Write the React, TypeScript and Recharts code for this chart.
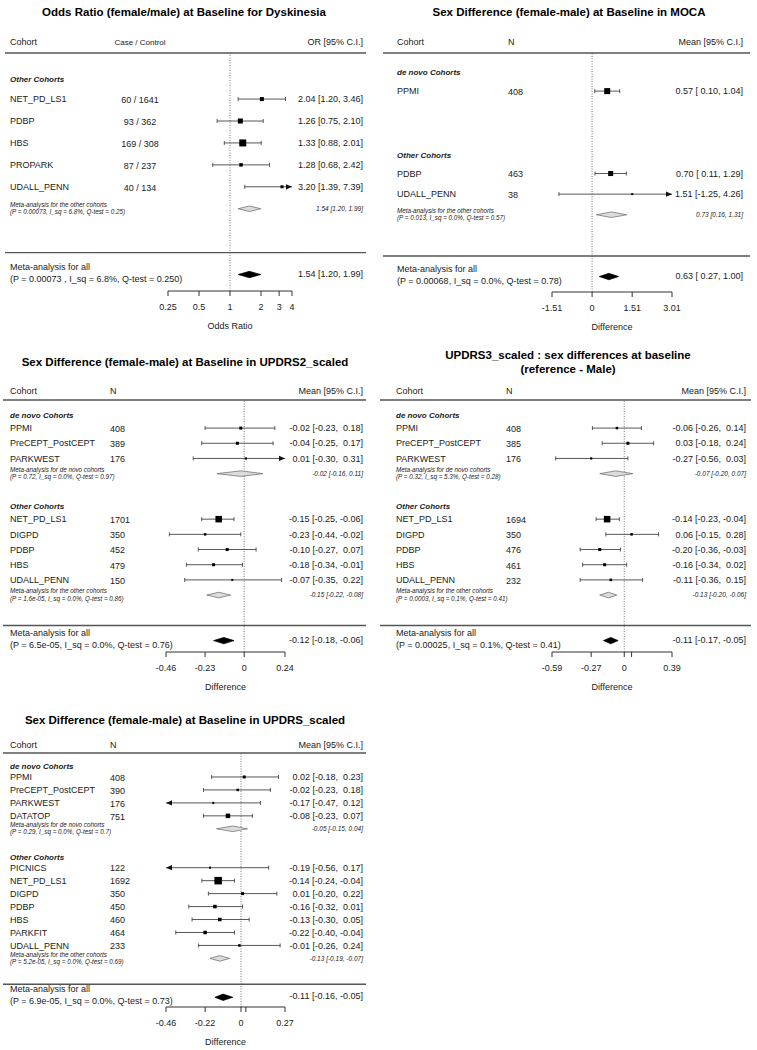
import React from 'react';
import { ScatterChart, Scatter, XAxis, YAxis, ReferenceLine } from 'recharts';

const FONT = '"Liberation Sans", Arial, Helvetica, sans-serif';
const INK = '#1a1a1a';
const RULE = '#555';

// ---- Odds ratio for dyskinesia ----
const dyskCohorts = ['NET_PD_LS1', 'PDBP', 'HBS', 'PROPARK', 'UDALL_PENN'];
const dyskCounts = ['60 / 1641', '93 / 362', '169 / 308', '87 / 237', '40 / 134'];
const dyskEst = [2.04, 1.26, 1.33, 1.28, 3.2];
const dyskLow = [1.2, 0.75, 0.88, 0.68, 1.39];
const dyskHigh = [3.46, 2.1, 2.01, 2.42, 7.39];
const dyskWeight = [4, 5, 7, 3.5, 3];
const dyskMeta = [1.54, 1.2, 1.99];
const dyskMetaStats = '(P = 0.00073, I_sq = 6.8%, Q-test = 0.25)';
const dyskAll = [1.54, 1.2, 1.99];
const dyskAllStats = '(P = 0.00073 , I_sq = 6.8%, Q-test = 0.250)';
const dyskTicks = [0.25, 0.5, 1, 2, 3, 4];
const dyskTickLabels = ['0.25', '0.5', '1', '2', '3', '4'];

// ---- MOCA ----
const mocaNovoCohorts = ['PPMI'];
const mocaNovoN = ['408'];
const mocaNovoEst = [0.57];
const mocaNovoLow = [0.1];
const mocaNovoHigh = [1.04];
const mocaNovoWeight = [6];
const mocaOtherCohorts = ['PDBP', 'UDALL_PENN'];
const mocaOtherN = ['463', '38'];
const mocaOtherEst = [0.7, 1.51];
const mocaOtherLow = [0.11, -1.25];
const mocaOtherHigh = [1.29, 4.26];
const mocaOtherWeight = [5, 2];
const mocaOtherMeta = [0.73, 0.16, 1.31];
const mocaOtherStats = '(P = 0.013, I_sq = 0.0%, Q-test = 0.57)';
const mocaAll = [0.63, 0.27, 1.0];
const mocaAllStats = '(P = 0.00068, I_sq = 0.0%, Q-test = 0.78)';
const mocaTicks = [-1.51, 0, 1.51, 3.01];
const mocaTickLabels = ['-1.51', '0', '1.51', '3.01'];

// ---- UPDRS2_scaled ----
const u2NovoCohorts = ['PPMI', 'PreCEPT_PostCEPT', 'PARKWEST'];
const u2NovoN = ['408', '389', '176'];
const u2NovoEst = [-0.02, -0.04, 0.01];
const u2NovoLow = [-0.23, -0.25, -0.3];
const u2NovoHigh = [0.18, 0.17, 0.31];
const u2NovoWeight = [3, 3, 2.2];
const u2NovoMeta = [-0.02, -0.16, 0.11];
const u2NovoStats = '(P = 0.72, I_sq = 0.0%, Q-test = 0.97)';
const u2OtherCohorts = ['NET_PD_LS1', 'DIGPD', 'PDBP', 'HBS', 'UDALL_PENN'];
const u2OtherN = ['1701', '350', '452', '479', '150'];
const u2OtherEst = [-0.15, -0.23, -0.1, -0.18, -0.07];
const u2OtherLow = [-0.25, -0.44, -0.27, -0.34, -0.35];
const u2OtherHigh = [-0.06, -0.02, 0.07, -0.01, 0.22];
const u2OtherWeight = [6.5, 2.5, 3, 3, 2];
const u2OtherMeta = [-0.15, -0.22, -0.08];
const u2OtherStats = '(P = 1.6e-05, I_sq = 0.0%, Q-test = 0.86)';
const u2All = [-0.12, -0.18, -0.06];
const u2AllStats = '(P = 6.5e-05, I_sq = 0.0%, Q-test = 0.76)';
const u2Ticks = [-0.46, -0.23, 0, 0.24];
const u2TickLabels = ['-0.46', '-0.23', '0', '0.24'];

// ---- UPDRS3_scaled ----
const u3NovoCohorts = ['PPMI', 'PreCEPT_PostCEPT', 'PARKWEST'];
const u3NovoN = ['408', '385', '176'];
const u3NovoEst = [-0.06, 0.03, -0.27];
const u3NovoLow = [-0.26, -0.18, -0.56];
const u3NovoHigh = [0.14, 0.24, 0.03];
const u3NovoWeight = [2.5, 3, 2.2];
const u3NovoMeta = [-0.07, -0.2, 0.07];
const u3NovoStats = '(P = 0.32, I_sq = 5.3%, Q-test = 0.28)';
const u3OtherCohorts = ['NET_PD_LS1', 'DIGPD', 'PDBP', 'HBS', 'UDALL_PENN'];
const u3OtherN = ['1694', '350', '476', '461', '232'];
const u3OtherEst = [-0.14, 0.06, -0.2, -0.16, -0.11];
const u3OtherLow = [-0.23, -0.15, -0.36, -0.34, -0.36];
const u3OtherHigh = [-0.04, 0.28, -0.03, 0.02, 0.15];
const u3OtherWeight = [6.5, 2.5, 3, 3, 2.5];
const u3OtherMeta = [-0.13, -0.2, -0.06];
const u3OtherStats = '(P = 0.0003, I_sq = 0.1%, Q-test = 0.41)';
const u3All = [-0.11, -0.17, -0.05];
const u3AllStats = '(P = 0.00025, I_sq = 0.1%, Q-test = 0.41)';
const u3Ticks = [-0.59, -0.27, 0, 0.06, 0.39];
const u3TickLabels = ['-0.59', '-0.27', '0', '', '0.39'];

// ---- UPDRS_scaled ----
const uNovoCohorts = ['PPMI', 'PreCEPT_PostCEPT', 'PARKWEST', 'DATATOP'];
const uNovoN = ['408', '390', '176', '751'];
const uNovoEst = [0.02, -0.02, -0.17, -0.08];
const uNovoLow = [-0.18, -0.23, -0.47, -0.23];
const uNovoHigh = [0.23, 0.18, 0.12, 0.07];
const uNovoWeight = [3, 2.5, 2, 4.5];
const uNovoMeta = [-0.05, -0.15, 0.04];
const uNovoStats = '(P = 0.29, I_sq = 0.0%, Q-test = 0.7)';
const uOtherCohorts = ['PICNICS', 'NET_PD_LS1', 'DIGPD', 'PDBP', 'HBS', 'PARKFIT', 'UDALL_PENN'];
const uOtherN = ['122', '1692', '350', '450', '460', '464', '233'];
const uOtherEst = [-0.19, -0.14, 0.01, -0.16, -0.13, -0.22, -0.01];
const uOtherLow = [-0.56, -0.24, -0.2, -0.32, -0.3, -0.4, -0.26];
const uOtherHigh = [0.17, -0.04, 0.22, 0.01, 0.05, -0.04, 0.24];
const uOtherWeight = [2, 7.5, 3, 3.5, 3.5, 3.5, 2.5];
const uOtherMeta = [-0.13, -0.19, -0.07];
const uOtherStats = '(P = 5.2e-05, I_sq = 0.0%, Q-test = 0.69)';
const uAll = [-0.11, -0.16, -0.05];
const uAllStats = '(P = 6.9e-05, I_sq = 0.0%, Q-test = 0.73)';
const uTicks = [-0.46, -0.22, 0, 0.03, 0.27];
const uTickLabels = ['-0.46', '-0.22', '0', '', '0.27'];

type Group = {
  title: string;
  cohorts: string[];
  counts: string[];
  est: number[];
  low: number[];
  high: number[];
  weight: number[];
  meta?: number[];
  metaTitle?: string;
  metaStats?: string;
};

const group = (
  title: string, cohorts: string[], counts: string[], est: number[], low: number[], high: number[],
  weight: number[], meta?: number[], metaTitle?: string, metaStats?: string,
): Group => ({ title, cohorts, counts, est, low, high, weight, meta, metaTitle, metaStats });

type Panel = {
  left: number; top: number; width: number;
  title: string[]; titleX: number; titleY: number[];
  headerY: number; lineY: number; axisY: number; lineX1: number; lineX2: number;
  plotLeft: number; plotRight: number;
  colCohort: number; colN: number; nAnchor: 'start' | 'middle'; nHeader: string; nHeaderSize: number;
  colRight: number; estHeader: string;
  groups: Group[]; overall: number[]; overallStats: string;
  domain: [number, number]; log?: boolean; ticks: number[]; tickLabels: string[];
  refX: number; axisLabel: string; topPad: number;
};

const OTHER = 'Other Cohorts';
const NOVO = 'de novo Cohorts';
const META_OTHER = 'Meta-analysis for the other cohorts';
const META_NOVO = 'Meta-analysis for de novo cohorts';

const panels: Panel[] = [
  {
    left: 0, top: 0, width: 378,
    title: ['Odds Ratio (female/male) at Baseline for Dyskinesia'], titleX: 184, titleY: [12],
    headerY: 42, lineY: 53, axisY: 291, lineX1: 5, lineX2: 366,
    plotLeft: 168, plotRight: 292,
    colCohort: 10, colN: 140, nAnchor: 'middle', nHeader: 'Case / Control', nHeaderSize: 8,
    colRight: 363, estHeader: 'OR [95% C.I.]',
    groups: [group(OTHER, dyskCohorts, dyskCounts, dyskEst, dyskLow, dyskHigh, dyskWeight, dyskMeta, META_OTHER, dyskMetaStats)],
    overall: dyskAll, overallStats: dyskAllStats,
    domain: [0.25, 4], log: true, ticks: dyskTicks, tickLabels: dyskTickLabels,
    refX: 1, axisLabel: 'Odds Ratio', topPad: 1.1,
  },
  {
    left: 380, top: 0, width: 377,
    title: ['Sex Difference (female-male) at Baseline in MOCA'], titleX: 189, titleY: [12],
    headerY: 42, lineY: 53, axisY: 292, lineX1: 3, lineX2: 370,
    plotLeft: 172, plotRight: 292,
    colCohort: 17, colN: 128, nAnchor: 'start', nHeader: 'N', nHeaderSize: 9,
    colRight: 363, estHeader: 'Mean [95% C.I.]',
    groups: [
      group(NOVO, mocaNovoCohorts, mocaNovoN, mocaNovoEst, mocaNovoLow, mocaNovoHigh, mocaNovoWeight),
      group(OTHER, mocaOtherCohorts, mocaOtherN, mocaOtherEst, mocaOtherLow, mocaOtherHigh, mocaOtherWeight, mocaOtherMeta, META_OTHER, mocaOtherStats),
    ],
    overall: mocaAll, overallStats: mocaAllStats,
    domain: [-1.51, 3.01], ticks: mocaTicks, tickLabels: mocaTickLabels,
    refX: 0, axisLabel: 'Difference', topPad: 0.85,
  },
  {
    left: 0, top: 340, width: 378,
    title: ['Sex Difference (female-male) at Baseline in UPDRS2_scaled'], titleX: 185, titleY: [22],
    headerY: 51, lineY: 60, axisY: 312, lineX1: 3, lineX2: 366,
    plotLeft: 166, plotRight: 285,
    colCohort: 10, colN: 110, nAnchor: 'start', nHeader: 'N', nHeaderSize: 9,
    colRight: 363, estHeader: 'Mean [95% C.I.]',
    groups: [
      group(NOVO, u2NovoCohorts, u2NovoN, u2NovoEst, u2NovoLow, u2NovoHigh, u2NovoWeight, u2NovoMeta, META_NOVO, u2NovoStats),
      group(OTHER, u2OtherCohorts, u2OtherN, u2OtherEst, u2OtherLow, u2OtherHigh, u2OtherWeight, u2OtherMeta, META_OTHER, u2OtherStats),
    ],
    overall: u2All, overallStats: u2AllStats,
    domain: [-0.46, 0.24], ticks: u2Ticks, tickLabels: u2TickLabels,
    refX: 0, axisLabel: 'Difference', topPad: 0.85,
  },
  {
    left: 378, top: 340, width: 379,
    title: ['UPDRS3_scaled : sex differences at baseline', '(reference - Male)'], titleX: 190, titleY: [15, 29],
    headerY: 51, lineY: 60, axisY: 312, lineX1: 2, lineX2: 373,
    plotLeft: 174, plotRight: 294,
    colCohort: 18, colN: 128, nAnchor: 'start', nHeader: 'N', nHeaderSize: 9,
    colRight: 368, estHeader: 'Mean [95% C.I.]',
    groups: [
      group(NOVO, u3NovoCohorts, u3NovoN, u3NovoEst, u3NovoLow, u3NovoHigh, u3NovoWeight, u3NovoMeta, META_NOVO, u3NovoStats),
      group(OTHER, u3OtherCohorts, u3OtherN, u3OtherEst, u3OtherLow, u3OtherHigh, u3OtherWeight, u3OtherMeta, META_OTHER, u3OtherStats),
    ],
    overall: u3All, overallStats: u3AllStats,
    domain: [-0.59, 0.39], ticks: u3Ticks, tickLabels: u3TickLabels,
    refX: 0, axisLabel: 'Difference', topPad: 0.85,
  },
  {
    left: 0, top: 700, width: 378,
    title: ['Sex Difference (female-male) at Baseline in UPDRS_scaled'], titleX: 185, titleY: [20],
    headerY: 45, lineY: 53, axisY: 307, lineX1: 3, lineX2: 366,
    plotLeft: 166, plotRight: 285,
    colCohort: 10, colN: 110, nAnchor: 'start', nHeader: 'N', nHeaderSize: 9,
    colRight: 363, estHeader: 'Mean [95% C.I.]',
    groups: [
      group(NOVO, uNovoCohorts, uNovoN, uNovoEst, uNovoLow, uNovoHigh, uNovoWeight, uNovoMeta, META_NOVO, uNovoStats),
      group(OTHER, uOtherCohorts, uOtherN, uOtherEst, uOtherLow, uOtherHigh, uOtherWeight, uOtherMeta, META_OTHER, uOtherStats),
    ],
    overall: uAll, overallStats: uAllStats,
    domain: [-0.46, 0.27], ticks: uTicks, tickLabels: uTickLabels,
    refX: 0, axisLabel: 'Difference', topPad: 0.85,
  },
];

type Row = {
  kind: 'group' | 'study' | 'meta' | 'blank' | 'sep' | 'overall';
  label?: string; count?: string; stats?: string;
  est?: number; low?: number; high?: number; weight?: number;
};

function buildRows(p: Panel): Row[] {
  const rows: Row[] = [];
  p.groups.forEach((g) => {
    rows.push({ kind: 'group', label: g.title });
    g.cohorts.forEach((c, i) =>
      rows.push({ kind: 'study', label: c, count: g.counts[i], est: g.est[i], low: g.low[i], high: g.high[i], weight: g.weight[i] }),
    );
    if (g.meta) rows.push({ kind: 'meta', label: g.metaTitle, stats: g.metaStats, est: g.meta[0], low: g.meta[1], high: g.meta[2] });
    else rows.push({ kind: 'blank' });
    rows.push({ kind: 'blank' });
  });
  rows.push({ kind: 'sep' });
  rows.push({ kind: 'overall', label: 'Meta-analysis for all', stats: p.overallStats, est: p.overall[0], low: p.overall[1], high: p.overall[2] });
  return rows;
}

const num = (v: number, pad: boolean) => (pad && v >= 0 ? ' ' : '') + v.toFixed(2);

// draws the confidence interval segments; points arrive in pairs (low, high)
const CiLines = (props: any) => {
  const { points, segs } = props;
  if (!points) return null;
  const out: React.ReactNode[] = [];
  for (let i = 0; i + 1 < points.length; i += 2) {
    const a = points[i];
    const b = points[i + 1];
    const s = segs[i / 2];
    out.push(<line key={`l${i}`} x1={a.x} y1={a.y} x2={b.x} y2={b.y} stroke="#444" strokeWidth={0.9} />);
    if (s.left) out.push(<polygon key={`al${i}`} points={`${a.x},${a.y} ${a.x + 6},${a.y - 2.6} ${a.x + 6},${a.y + 2.6}`} fill="#111" />);
    else out.push(<line key={`cl${i}`} x1={a.x} y1={a.y - 2} x2={a.x} y2={a.y + 2} stroke="#444" strokeWidth={0.9} />);
    if (s.right) out.push(<polygon key={`ar${i}`} points={`${b.x},${b.y} ${b.x - 6},${b.y - 2.6} ${b.x - 6},${b.y + 2.6}`} fill="#111" />);
    else out.push(<line key={`cr${i}`} x1={b.x} y1={b.y - 2} x2={b.x} y2={b.y + 2} stroke="#444" strokeWidth={0.9} />);
  }
  return <g>{out}</g>;
};

// draws summary diamonds; points arrive in triples (low, estimate, high)
const Diamonds = (props: any) => {
  const { points, kinds } = props;
  if (!points) return null;
  const out: React.ReactNode[] = [];
  for (let i = 0; i + 2 < points.length; i += 3) {
    const lo = points[i];
    const mid = points[i + 1];
    const hi = points[i + 2];
    const overall = kinds[i / 3] === 'overall';
    const h = overall ? 3.2 : 2.8;
    out.push(
      <polygon
        key={`d${i}`}
        points={`${lo.x},${lo.y} ${mid.x},${mid.y - h} ${hi.x},${hi.y} ${mid.x},${mid.y + h}`}
        fill={overall ? '#000' : '#dcdcdc'}
        stroke={overall ? '#000' : '#666'}
        strokeWidth={0.7}
      />,
    );
  }
  return <g>{out}</g>;
};

const noShape = () => <g />;

function ForestPanel({ p }: { p: Panel }) {
  const rows = buildRows(p);
  const [dMin, dMax] = p.domain;
  const main = rows.filter((r) => r.kind === 'study' || r.kind === 'overall');
  const padLow = main.some((r) => (r.low as number) < 0);
  const padHigh = main.some((r) => (r.high as number) < 0);

  const ciData: { x: number; y: number }[] = [];
  const ciSegs: { left: boolean; right: boolean }[] = [];
  const boxData: { x: number; y: number; w: number }[] = [];
  const diaData: { x: number; y: number }[] = [];
  const diaKinds: string[] = [];
  rows.forEach((r, i) => {
    if (r.kind === 'study') {
      const lo = r.low as number;
      const hi = r.high as number;
      ciData.push({ x: Math.max(lo, dMin), y: i }, { x: Math.min(hi, dMax), y: i });
      ciSegs.push({ left: lo < dMin, right: hi > dMax });
      boxData.push({ x: r.est as number, y: i, w: r.weight as number });
    }
    if (r.kind === 'meta' || r.kind === 'overall') {
      diaData.push({ x: r.low as number, y: i }, { x: r.est as number, y: i }, { x: r.high as number, y: i });
      diaKinds.push(r.kind);
    }
  });

  const rowTicks = rows.map((_, i) => i).filter((i) => rows[i].kind !== 'blank');
  const height = p.axisY + 40;

  const renderRow = (t: any) => {
    const r = rows[t.payload.value];
    const y = t.y;
    if (!r) return <g />;
    if (r.kind === 'group') {
      return (
        <text x={p.colCohort} y={y + 4.8} fontSize={8} fontWeight="bold" fontStyle="italic" fill={INK}>
          {r.label}
        </text>
      );
    }
    if (r.kind === 'sep') {
      return <line x1={p.lineX1} x2={p.lineX2} y1={y} y2={y} stroke={RULE} strokeWidth={1.4} />;
    }
    if (r.kind === 'study') {
      return (
        <g>
          <text x={p.colCohort} y={y + 3.2} fontSize={9} fill={INK}>{r.label}</text>
          <text x={p.colN} y={y + 3.8} fontSize={9} fill={INK} textAnchor={p.nAnchor}>{r.count}</text>
          <text x={p.colRight} y={y + 3.2} fontSize={9} fill={INK} textAnchor="end" style={{ whiteSpace: 'pre' }}>
            {`${num(r.est as number, false)} [${num(r.low as number, padLow)}, ${num(r.high as number, padHigh)}]`}
          </text>
        </g>
      );
    }
    if (r.kind === 'meta') {
      return (
        <g>
          <text x={p.colCohort} y={y - 1.6} fontSize={6.3} fontStyle="italic" fill={INK}>{r.label}</text>
          <text x={p.colCohort} y={y + 5.6} fontSize={6.3} fontStyle="italic" fill={INK}>{r.stats}</text>
          <text x={p.colRight} y={y + 2.3} fontSize={6.5} fontStyle="italic" fill={INK} textAnchor="end">
            {`${num(r.est as number, false)} [${num(r.low as number, false)}, ${num(r.high as number, false)}]`}
          </text>
        </g>
      );
    }
    return (
      <g>
        <text x={p.colCohort} y={y - 5} fontSize={9} fill={INK}>{r.label}</text>
        <text x={p.colCohort} y={y + 7} fontSize={9} fill={INK}>{r.stats}</text>
        <text x={p.colRight} y={y + 2} fontSize={9} fill={INK} textAnchor="end" style={{ whiteSpace: 'pre' }}>
          {`${num(r.est as number, false)} [${num(r.low as number, padLow)}, ${num(r.high as number, padHigh)}]`}
        </text>
      </g>
    );
  };

  const tickText = (v: number) => {
    const k = p.ticks.indexOf(v);
    return k >= 0 ? p.tickLabels[k] : String(v);
  };

  return (
    <div style={{ position: 'absolute', left: p.left, top: p.top, width: p.width, height }}>
      <svg width={p.width} height={height} style={{ position: 'absolute', left: 0, top: 0 }}>
        {p.title.map((t, i) => (
          <text key={t} x={p.titleX} y={p.titleY[i] + 4.2} fontSize={11.5} fontWeight="bold" textAnchor="middle" fill="#000">
            {t}
          </text>
        ))}
        <text x={p.colCohort} y={p.headerY + 3.2} fontSize={9} fill={INK}>Cohort</text>
        <text x={p.colN} y={p.headerY + 3} fontSize={p.nHeaderSize} fill={INK} textAnchor={p.nAnchor}>{p.nHeader}</text>
        <text x={p.colRight} y={p.headerY + 3.2} fontSize={9} fill={INK} textAnchor="end">{p.estHeader}</text>
        <line x1={p.lineX1} x2={p.lineX2} y1={p.lineY} y2={p.lineY} stroke={RULE} strokeWidth={1.4} />
      </svg>
      <ScatterChart
        width={p.width}
        height={height}
        margin={{ top: p.lineY, right: p.width - p.plotRight, bottom: 0, left: 0 }}
      >
        <XAxis
          type="number"
          dataKey="x"
          domain={p.domain}
          scale={p.log ? 'log' : 'linear'}
          allowDataOverflow
          ticks={p.ticks}
          interval={0}
          tickFormatter={tickText}
          height={40}
          tickSize={5}
          tickMargin={8}
          axisLine={{ stroke: '#333' }}
          tickLine={{ stroke: '#333' }}
          tick={{ fontSize: 9, fill: INK }}
          label={{ value: p.axisLabel, position: 'insideBottom', offset: 2, fontSize: 9, fill: INK }}
        />
        <YAxis
          type="number"
          dataKey="y"
          domain={[-p.topPad, rows.length - 1 + 0.75]}
          allowDataOverflow
          reversed
          ticks={rowTicks}
          interval={0}
          width={p.plotLeft}
          axisLine={false}
          tickLine={false}
          tick={renderRow}
        />
        <ReferenceLine x={p.refX} stroke="#555" strokeWidth={0.8} strokeDasharray="1 1.5" />
        <Scatter data={ciData} shape={noShape} line={<CiLines segs={ciSegs} />} lineType="joint" isAnimationActive={false} />
        <Scatter data={diaData} shape={noShape} line={<Diamonds kinds={diaKinds} />} lineType="joint" isAnimationActive={false} />
        <Scatter
          data={boxData}
          isAnimationActive={false}
          shape={(sp: any) => {
            const s = sp.payload.w;
            return <rect x={sp.cx - s / 2} y={sp.cy - s / 2} width={s} height={s} fill="#000" />;
          }}
        />
      </ScatterChart>
    </div>
  );
}

export default function App() {
  return (
    <div style={{ position: 'absolute', left: 0, top: 0, width: 757, height: 1050, background: '#fff', fontFamily: FONT }}>
      {panels.map((p) => (
        <ForestPanel key={p.title[0]} p={p} />
      ))}
    </div>
  );
}
